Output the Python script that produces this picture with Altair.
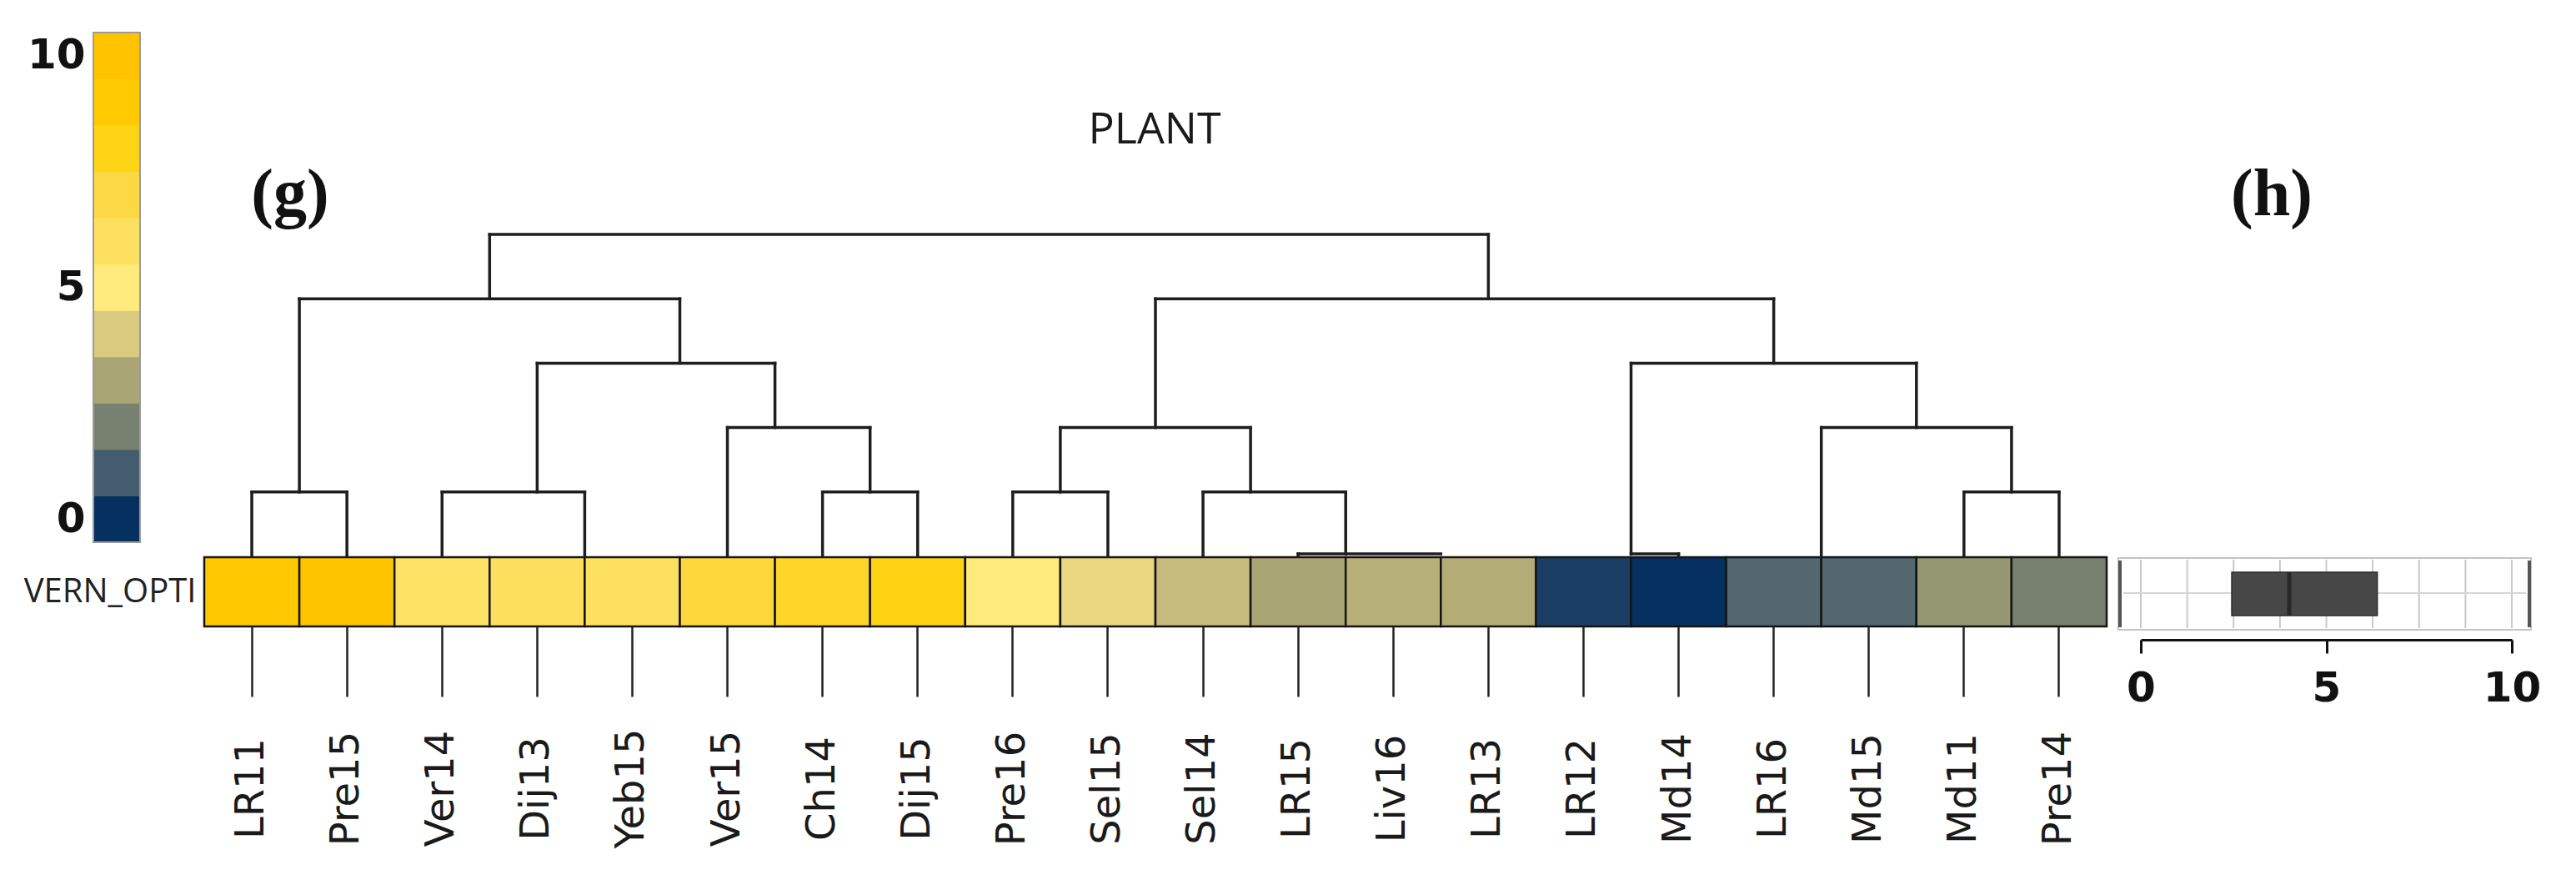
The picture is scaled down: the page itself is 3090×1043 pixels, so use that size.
import altair as alt
import pandas as pd

# ---------------- data ----------------
leaves = ["LR11", "Pre15", "Ver14", "Dij13", "Yeb15", "Ver15", "Ch14", "Dij15",
          "Pre16", "Sel15", "Sel14", "LR15", "Liv16", "LR13", "LR12", "Md14",
          "LR16", "Md15", "Md11", "Pre14"]
vern_opti = [9.3, 9.8, 5.8, 6.1, 6.0, 7.2, 7.6, 8.1, 5.0, 4.4,
             3.6, 3.0, 3.3, 3.2, 0.35, 0.0, 1.3, 1.3, 2.6, 2.0]
row_label = "VERN_OPTI"
cluster_title = "PLANT"
panel_g = "(g)"
panel_h = "(h)"

scale_values = [0, 1, 2, 3, 4, 5, 6, 7, 8, 9, 10]
scale_colors = ["#05305F", "#435C6E", "#788170", "#A9A575", "#D9CA80", "#FFEA7B",
                "#FEE060", "#FDD845", "#FFD416", "#FFCA00", "#FFC300"]
scale_ticks = [0, 5, 10]
box_ticks = [0, 5, 10]
box_grid = [0, 1.25, 2.5, 3.75, 5, 6.25, 7.5, 8.75, 10]

# dendrogram (positions in leaf units, heights in merge levels)
leaf_join_height = [1, 1, 1, 0, 0, 2, 1, 1, 1, 1, 1, 0.04, 0, 0, 0, 0.04, 0, 0, 1, 1]
node_height = [1, 0, 1, 1, 2, 3, 4, 1, 0, 0.04, 1, 2, 0.04, 0, 1, 2, 3, 4, 5]
node_lo = [0, 3, 2, 6, 5, 3.0, 0.5, 8, 12, 11, 10, 8.5, 14.5, 16, 18, 16.5, 14.5, 9.5, 2.5]
node_hi = [1, 4, 3.5, 7, 6.5, 5.5, 4.5, 9, 13, 12.5, 11.5, 10.5, 15, 17, 19, 18.5, 17.5, 16.0, 13.0]
node_pos = [0.5, 3.5, 3.0, 6.5, 5.5, 4.5, 2.5, 8.5, 12.5, 11.5, 10.5, 9.5, 14.5, 16.5, 18.5, 17.5, 16.0, 13.0, 7.75]
node_parent = [4, 1, 3, 2, 3, 4, 5, 2, 0, 1, 2, 4, 3, 2, 2, 3, 4, 5, 5]

# ---------------- layout ----------------
W, H = 3074, 1027
HX0, HX1 = 237, 2519
HY0, HY1 = 660, 743
DEND_TOP = 273
CB_X0, CB_X1, CB_TOP, CB_BOT = 104, 160, 31, 642
BX0, BX10 = 2560, 3005
BP_X0, BP_X1, BP_Y0, BP_Y1 = 2533, 3028, 661, 747
BOX_AXIS_Y = 759

# ---------------- tables ----------------
heat_df = pd.DataFrame({"leaf": leaves, "value": vern_opti, "row": row_label})

segs = []
for i, ph in enumerate(leaf_join_height):
    if ph > 0:
        segs.append(dict(x=i, x2=i, y=0, y2=ph))
for h, lo, hi, pos, ph in zip(node_height, node_lo, node_hi, node_pos, node_parent):
    if h > 0:  # merges at distance 0 sit on the heatmap border
        segs.append(dict(x=lo, x2=hi, y=h, y2=h))
    if ph > h:
        segs.append(dict(x=pos, x2=pos, y=h, y2=ph))
seg_df = pd.DataFrame(segs)

cb_df = pd.DataFrame({"v": scale_values, "c": scale_colors})

# ---------------- scales ----------------
xq = alt.Scale(domain=[-0.5, len(leaves) - 0.5], range=[HX0, HX1], nice=False, zero=False)
yd = alt.Scale(domain=[0, 5], range=[HY0 - 1, DEND_TOP], nice=False, zero=False)
cb_scale = alt.Scale(domain=[scale_values[0] - 0.5, scale_values[-1] + 0.5],
                     range=[CB_BOT, CB_TOP], nice=False, zero=False)
box_x = alt.Scale(domain=[0, 10], range=[BX0, BX10], nice=False, zero=False)

# ---------------- layers ----------------
heat = alt.Chart(heat_df).mark_rect(stroke="#141414", strokeWidth=2.5).encode(
    x=alt.X("leaf:N", sort=leaves,
            scale=alt.Scale(domain=leaves, range=[HX0, HX1], paddingInner=0, paddingOuter=0),
            axis=alt.Axis(orient="bottom", offset=HY1 - H, title=None, domain=False,
                          ticks=True, tickSize=84, tickWidth=2.5, tickColor="#222222",
                          bandPosition=0.5, labelAngle=270, labelAlign="center",
                          labelBaseline="middle", labelPadding=110,
                          labelFont="DejaVu Sans", labelFontSize=48, labelColor="#1a1a1a",
                          labelOverlap=False, labelLimit=0, grid=False)),
    y=alt.Y("row:N",
            scale=alt.Scale(domain=[row_label], range=[HY0, HY1], paddingInner=0, paddingOuter=0),
            axis=alt.Axis(orient="left", offset=-HX0, title=None, domain=False, ticks=False,
                          labelPadding=10, labelFont="Open Sans", labelFontSize=40,
                          labelLimit=0, labelColor="#222222", grid=False)),
    color=alt.Color("value:Q",
                    scale=alt.Scale(domain=scale_values, range=scale_colors, interpolate="rgb"),
                    legend=None),
)

dend = alt.Chart(seg_df).mark_rule(color="#1e1e1e", strokeWidth=3.5, strokeCap="square").encode(
    x=alt.X("x:Q", scale=xq, axis=None),
    x2="x2:Q",
    y=alt.Y("y:Q", scale=yd, axis=None),
    y2="y2:Q",
)

colorbar = alt.Chart(cb_df).transform_calculate(
    lo="datum.v - 0.5", hi="datum.v + 0.5"
).mark_rect(strokeWidth=1).encode(
    x=alt.value(CB_X0), x2=alt.value(CB_X1),
    y=alt.Y("lo:Q", scale=cb_scale,
            axis=alt.Axis(orient="left", offset=-CB_X0, values=scale_ticks, title=None,
                          domain=False, ticks=False, grid=False, labelPadding=10,
                          labelFont="DejaVu Sans", labelFontSize=50, labelFontWeight="bold",
                          labelColor="#111111")),
    y2="hi:Q",
    color=alt.Color("c:N", scale=None),
    stroke=alt.Color("c:N", scale=None),
)

cb_outline = alt.Chart(cb_df).transform_calculate(
    lo="datum.v - 0.5", hi="datum.v + 0.5"
).transform_aggregate(
    lo="min(lo)", hi="max(hi)"
).mark_rect(fillOpacity=0, stroke="#9b9b9b", strokeWidth=2).encode(
    x=alt.value(CB_X0), x2=alt.value(CB_X1),
    y=alt.Y("lo:Q", scale=cb_scale, axis=None),
    y2="hi:Q",
)

one = pd.DataFrame({"row": [row_label]})
frame = alt.Chart(one).mark_rect(fill="white", stroke="#c4c4c4", strokeWidth=2).encode(
    x=alt.value(BP_X0), x2=alt.value(BP_X1), y=alt.value(BP_Y0), y2=alt.value(BP_Y1))

grid = alt.Chart(pd.DataFrame({"g": box_grid})).mark_rule(color="#c9c9c9", strokeWidth=2).encode(
    x=alt.X("g:Q", scale=box_x, axis=None), y=alt.value(BP_Y0 + 2), y2=alt.value(BP_Y1 - 2))

center_line = alt.Chart(one).mark_rule(color="#d6d6d6", strokeWidth=2).encode(
    x=alt.value(BP_X0 + 6), x2=alt.value(BP_X1 - 6), y=alt.value((BP_Y0 + BP_Y1) / 2 - 1))

side_l = alt.Chart(one).mark_rule(color="#555555", strokeWidth=4).encode(
    x=alt.value(BP_X0 + 2), y=alt.value(BP_Y0 + 3), y2=alt.value(BP_Y1 - 3))
side_r = alt.Chart(one).mark_rule(color="#555555", strokeWidth=4).encode(
    x=alt.value(BP_X1 - 2), y=alt.value(BP_Y0 + 3), y2=alt.value(BP_Y1 - 3))

box = alt.Chart(heat_df).mark_boxplot(
    extent="min-max", size=52, rule=False, ticks=False, outliers=False,
    box={"color": "#474747", "stroke": "#2b2b2b", "strokeWidth": 1.5},
    median={"color": "#1c1c1c", "thickness": 5},
).encode(
    x=alt.X("value:Q", scale=box_x,
            axis=alt.Axis(orient="bottom", offset=BOX_AXIS_Y - H, values=box_ticks, title=None,
                          grid=False, domainColor="#111111", domainWidth=3,
                          tickColor="#111111", tickWidth=3, tickSize=16, labelPadding=17,
                          labelFont="DejaVu Sans", labelFontSize=50, labelFontWeight="bold",
                          labelColor="#111111", labelFlush=False, labelOverlap=False)),
    y=alt.Y("row:N",
            scale=alt.Scale(domain=[row_label], range=[BP_Y0, BP_Y1], paddingInner=0, paddingOuter=0),
            axis=None),
)


def annotate(text, x, y, **kw):
    return alt.Chart(pd.DataFrame({"t": [text]})).mark_text(**kw).encode(
        text="t:N", x=alt.value(x), y=alt.value(y))


g_lbl = annotate(panel_g, 340, 226, font="Liberation Serif", fontWeight="bold", fontSize=80,
                 align="center", baseline="middle", color="#111111")
h_lbl = annotate(panel_h, 2717, 226, font="Liberation Serif", fontWeight="bold", fontSize=80,
                 align="center", baseline="middle", color="#111111")
plant = annotate(cluster_title, 1377, 148, font="Open Sans", fontSize=52,
                 align="center", baseline="middle", color="#1a1a1a")

chart = alt.layer(
    heat, dend, colorbar, cb_outline, frame, grid, center_line, side_l, side_r, box,
    g_lbl, h_lbl, plant
).resolve_scale(
    x="independent", y="independent", color="independent", stroke="independent"
).properties(
    width=W, height=H, autosize=alt.AutoSizeParams(type="none"), padding=0, background="white"
).configure_view(stroke=None)

chart.save("out.html", embed_options={"renderer": "svg", "actions": False})
